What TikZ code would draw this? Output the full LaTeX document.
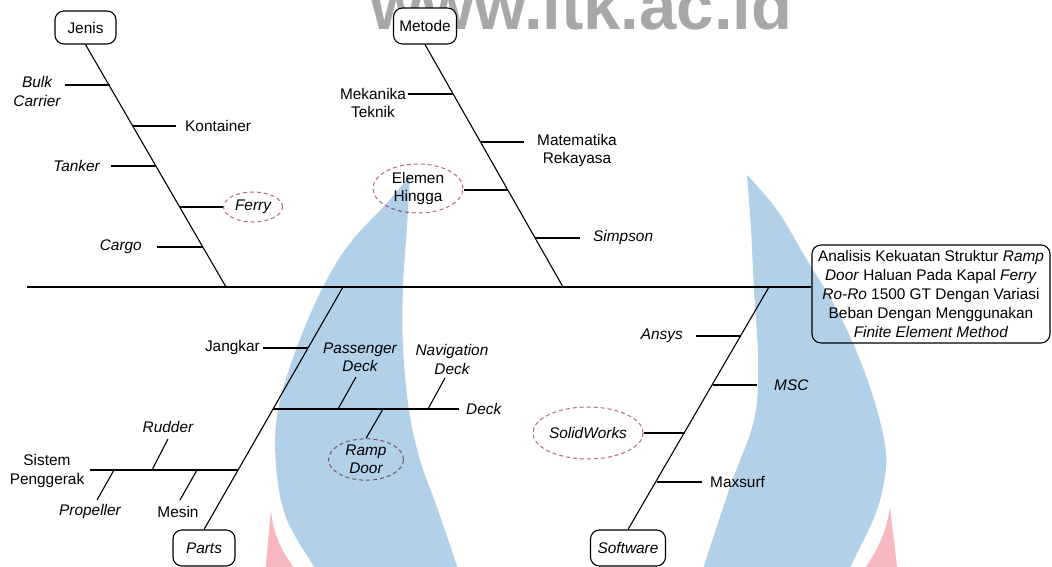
\documentclass[tikz,border=0pt]{standalone}
\usepackage{fontspec}
\setmainfont{Liberation Sans}
\usetikzlibrary{shapes.geometric,calc}
\definecolor{hlred}{HTML}{B06A74}
\definecolor{flameblue}{HTML}{B2D0E8}
\definecolor{flamepink}{HTML}{F7B9BF}
\definecolor{wmgray}{HTML}{A8A8A8}
\newcommand\lblsize{\fontsize{15.4}{18.5}\selectfont}
\begin{document}
\begin{tikzpicture}[x=1pt,y=-1pt,
  bone/.style={line width=1.1pt},
  head/.style={draw,line width=1.1pt,rounded corners=9pt,fill=white,inner sep=0pt,font=\lblsize},
  lbl/.style={inner sep=0pt,font=\lblsize,align=center},
  ilbl/.style={inner sep=0pt,font=\lblsize\itshape,align=center},
  hl/.style={ellipse,draw=hlred,dash pattern=on 4pt off 3pt,line width=1pt,inner sep=0pt,align=center},
]
\useasboundingbox (0,0) rectangle (1052,567);
% watermark text
\node[anchor=base west,inner sep=0pt,text=wmgray,font=\fontsize{67}{67}\selectfont\bfseries] (wm) at (370,30) {www.itk.ac.id};

% heads
\node[head,minimum width=61pt,minimum height=33pt] (jenis) at (85.5,27.5) {Jenis};
\node[head,minimum width=63pt,minimum height=36pt] (metode) at (425,26) {Metode};
\node[head,minimum width=62pt,minimum height=36pt,font=\lblsize\itshape] (parts) at (204,548) {Parts};
\node[head,minimum width=75pt,minimum height=36pt,font=\lblsize\itshape] (software) at (628,548) {Software};
\node[head,minimum width=238pt,minimum height=98pt,align=center,font=\fontsize{15.4}{19}\selectfont] (goal) at (931,294)
  {Analisis Kekuatan Struktur \textit{Ramp}\\ \textit{Door} Haluan Pada Kapal \textit{Ferry}\\ \textit{Ro-Ro} 1500 GT Dengan Variasi\\ Beban Dengan Menggunakan\\ \textit{Finite Element Method}};

% spine and bones
\coordinate (tail) at (27,287);
\coordinate (J0) at (226,287);
\coordinate (M0) at (563,287);
\coordinate (P0) at (343,287);
\coordinate (S0) at (769,287);
\draw[bone] (tail) -- (tail -| goal.west);
\draw[bone] (jenis.south) -- (J0);
\draw[bone] (metode.south) -- (M0);
\draw[bone] (parts.north) -- (P0);
\draw[bone] (software.north) -- (S0);

% branch points
\coordinate (j1) at (109.6,85);
\coordinate (j2) at (133.2,126);
\coordinate (j3) at (156.3,166);
\coordinate (j4) at (179.9,207);
\coordinate (j5) at (203,247);
\coordinate (m1) at (453.4,94);
\coordinate (m2) at (480.7,142);
\coordinate (m3) at (507.9,190);
\coordinate (m4) at (535.2,238);
\coordinate (p1) at (238.3,470);
\coordinate (p2) at (273.2,409);
\coordinate (p3) at (308.1,348);
\coordinate (s1) at (656.7,482);
\coordinate (s2) at (684.9,433);
\coordinate (s3) at (712.5,385);
\coordinate (s4) at (740.8,336);

% Jenis
\node[ilbl] (bulk) at (37,91.5) {Bulk\\Carrier};
\node[lbl,anchor=west] (kont) at (185,126) {Kontainer};
\node[ilbl,anchor=east] (tank) at (100,166) {Tanker};
\node[hl,font=\lblsize\itshape,minimum width=59pt,minimum height=30pt] (ferry) at (253,207) {Ferry};
\node[ilbl,anchor=east] (cargo) at (142,247) {Cargo};
\draw[bone] (j1) -- ($(j1 -| bulk.east)+(4,0)$);
\draw[bone] (j2) -- ($(j2 -| kont.west)+(-9,0)$);
\draw[bone] (j3) -- ($(j3 -| tank.east)+(11,0)$);
\draw[bone] (j4) -- (ferry.west);
\draw[bone] (j5) -- ($(j5 -| cargo.east)+(15,0)$);

% Metode
\node[lbl] (mek) at (373,103) {Mekanika\\Teknik};
\node[lbl] (mat) at (577,150.5) {Matematika\\Rekayasa};
\node[hl,font=\lblsize,minimum width=90pt,minimum height=49pt] (elemen) at (418,188.5) {Elemen\\Hingga};
\node[ilbl,anchor=west] (simp) at (593,238) {Simpson};
\draw[bone] (m1) -- ($(m1 -| mek.east)+(2,0)$);
\draw[bone] (m2) -- ($(m2 -| mat.west)+(-13,0)$);
\draw[bone] (m3) -- (m3 -| elemen.east);
\draw[bone] (m4) -- ($(m4 -| simp.west)+(-13,0)$);

% Parts
\node[lbl,anchor=east] (jang) at (260,348) {Jangkar};
\node[ilbl,anchor=west] (deck) at (466,409) {Deck};
\draw[bone] (p3) -- ($(p3 -| jang.east)+(3,0)$);
\draw[bone] (p2) -- ($(p2 -| deck.west)+(-7,0)$);
\coordinate (d1) at (338,409);
\coordinate (d1t) at (356,377);
\coordinate (d2) at (428,409);
\coordinate (d2t) at (445,378);
\coordinate (d3) at (383,409);
\node[ilbl] (pass) at (360,357.5) {Passenger\\Deck};
\node[ilbl] (nav) at (452,359.5) {Navigation\\Deck};
\node[hl,font=\lblsize\itshape,minimum width=75pt,minimum height=41pt] (ramp) at (366,459.5) {Ramp\\Door};
\draw[bone] (d1) -- (d1t);
\draw[bone] (d2) -- (d2t);
\draw[bone] (d3) -- (ramp.north);

\node[lbl] (sis) at (47,471) {Sistem\\Penggerak};
\draw[bone] (p1) -- ($(p1 -| sis.east)+(6,0)$);
\coordinate (e1) at (152,470);
\coordinate (e1t) at (168,439);
\coordinate (e2) at (114,470);
\coordinate (e2t) at (97,500);
\coordinate (e3) at (197,470);
\coordinate (e3t) at (180,500);
\node[ilbl] (rud) at (168,427) {Rudder};
\node[ilbl] (prop) at (90,512) {Propeller};
\node[lbl] (mesin) at (178,512) {Mesin};
\draw[bone] (e1) -- (e1t);
\draw[bone] (e2) -- (e2t);
\draw[bone] (e3) -- (e3t);

% Software
\node[ilbl,anchor=east] (ansys) at (683,336) {Ansys};
\node[ilbl,anchor=west] (msc) at (774,385.5) {MSC};
\node[hl,font=\lblsize\itshape,minimum width=102pt,minimum height=52pt] (solid) at (588,433) {SolidWorks};
\node[lbl,anchor=west] (maxs) at (710,482) {Maxsurf};
\draw[bone] (s4) -- ($(s4 -| ansys.east)+(13,0)$);
\draw[bone] (s3) -- ($(s3 -| msc.west)+(-17,0)$);
\draw[bone] (s2) -- (solid.east);
\draw[bone] (s1) -- ($(s1 -| maxs.west)+(-8,0)$);

% watermark flames
\begin{scope}[blend mode=multiply]
\fill[flameblue] plot[smooth,tension=0.6] coordinates {(410,175) (407,227) (403,287) (403,347) (409,410) (420,460) (438,510) (460,575)}
  -- plot[smooth,tension=0.6] coordinates {(320,575) (287,520) (276,465) (278,410) (297,347) (323,287) (350,243) (387,203) (410,175)} -- cycle;
\fill[flameblue] plot[smooth,tension=0.6] coordinates {(747,175) (777,210) (807,260) (837,310) (860,360) (877,410) (886,453) (883,487) (873,520) (846,575)}
  -- plot[smooth,tension=0.6] coordinates {(701,575) (730,487) (754,420) (758,360) (754,290) (751,230) (747,175)} -- cycle;
\fill[flamepink] (271,510) .. controls (273,535) and (283,555) .. (300,575) -- (265,575) -- cycle;
\fill[flamepink] (890,507) .. controls (886,535) and (875,555) .. (860,575) -- (898,575) -- cycle;
\end{scope}
\end{tikzpicture}
\end{document}
